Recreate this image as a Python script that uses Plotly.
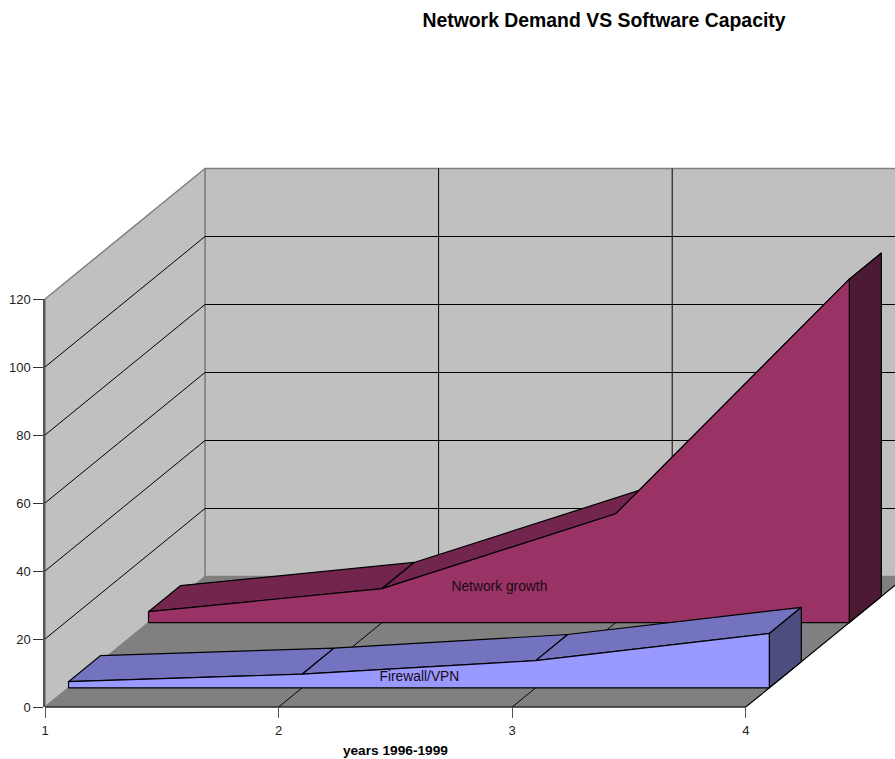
import plotly.graph_objects as go

# ---- data ----
years = [1, 2, 3, 4]
y_ticks = [0, 20, 40, 60, 80, 100, 120]
firewall_vpn = [1.8, 4, 8, 16]
network_growth = [3.2, 10, 32, 101]

W, H = 895, 759
LEFT, RIGHT, BASE, TOP = 45, 745.8, 707, 299
PX_X = (RIGHT - LEFT) / 3
PX_Y = (BASE - TOP) / 120
DEPTH_X = 160 / PX_X   # oblique offset of full depth, in category units
DEPTH_Y = 130.5 / PX_Y   # ... and in value units
x0 = 1 - LEFT / PX_X
x1 = 1 + (W - LEFT) / PX_X
y0 = -(H - BASE) / PX_Y
y1 = BASE / PX_Y


def proj(x, v, d):
    return x + d * DEPTH_X, v + d * DEPTH_Y


def poly(fig, pts, fill, line="black", width=1.2):
    xs = [p[0] for p in pts]
    ys = [p[1] for p in pts]
    fig.add_trace(go.Scatter(
        x=xs, y=ys, mode="lines", fill="toself" if fill else "none",
        fillcolor=fill, line=dict(color=line, width=width), hoverinfo="skip",
        showlegend=False, xaxis="x", yaxis="y"))


def area(fig, values, d_front, d_back, front, top, side):
    n = len(years)
    for i in range(n - 1):
        poly(fig, [proj(years[i], values[i], d_front), proj(years[i + 1], values[i + 1], d_front),
                   proj(years[i + 1], values[i + 1], d_back), proj(years[i], values[i], d_back),
                   proj(years[i], values[i], d_front)], top)
    poly(fig, [proj(years[-1], 0, d_front), proj(years[-1], values[-1], d_front),
               proj(years[-1], values[-1], d_back), proj(years[-1], 0, d_back),
               proj(years[-1], 0, d_front)], side)
    outline = [proj(years[0], 0, d_front)] + [proj(a, b, d_front) for a, b in zip(years, values)] + \
              [proj(years[-1], 0, d_front), proj(years[0], 0, d_front)]
    poly(fig, outline, front)


fig = go.Figure()
WALL = "#C0C0C0"
FLOOR = "#808080"
EDGE = "#808080"
xa, xb = years[0], years[-1]
ymax = y_ticks[-1]

# walls and floor
poly(fig, [proj(xa, 0, 1), proj(xa, ymax, 1), proj(xb, ymax, 1), proj(xb, 0, 1), proj(xa, 0, 1)], WALL, EDGE, 1.5)
poly(fig, [proj(xa, 0, 0), proj(xa, ymax, 0), proj(xa, ymax, 1), proj(xa, 0, 1), proj(xa, 0, 0)], WALL, EDGE, 1.5)
poly(fig, [proj(xa, 0, 0), proj(xb, 0, 0), proj(xb, 0, 1), proj(xa, 0, 1), proj(xa, 0, 0)], FLOOR, EDGE, 1)

# gridlines
for t in y_ticks[1:-1]:
    poly(fig, [proj(xa, t, 0), proj(xa, t, 1), proj(xb, t, 1)], None, "black", 1)
for c in years[1:-1]:
    poly(fig, [proj(c, 0, 0), proj(c, 0, 1), proj(c, ymax, 1)], None, "black", 1)
# floor front and right edges
poly(fig, [proj(xa, 0, 0), proj(xb, 0, 0), proj(xb, 0, 1)], None, "black", 1.2)

area(fig, network_growth, 0.647, 0.847, "#993366", "#73264D", "#4D1A33")
area(fig, firewall_vpn, 0.147, 0.347, "#9999FF", "#7373BF", "#4D4D80")

for name, (lx, lv), d in [("Network growth", (2.5, 10.2), 0.65), ("Firewall/VPN", (2.5, 3.0), 0.15)]:
    px, pv = proj(lx, lv, d)
    fig.add_trace(go.Scatter(x=[px], y=[pv], mode="text", text=[name], textposition="middle center",
                             textfont=dict(family="Liberation Sans", size=13.8, color="#1a0a14"),
                             hoverinfo="skip", showlegend=False, xaxis="x", yaxis="y"))

# invisible trace that carries the real tick axes
fig.add_trace(go.Scatter(x=[xa, xb], y=[0, ymax], mode="lines", line=dict(color="rgba(0,0,0,0)"),
                         hoverinfo="skip", showlegend=False, xaxis="x2", yaxis="y2"))

fig.update_layout(
    template="none",
    width=W, height=H, autosize=False,
    margin=dict(l=0, r=0, t=0, b=0, pad=0), paper_bgcolor="white", plot_bgcolor="rgba(0,0,0,0)",
    showlegend=False,
    font=dict(family="Liberation Sans", color="#222222"),
    title=dict(text="<b>Network Demand VS Software Capacity</b>", x=604 / W, xanchor="center",
               y=1 - 20 / H, yanchor="middle", automargin=False,
               font=dict(family="Liberation Sans", size=19.4, color="black")),
    xaxis=dict(domain=[0, 1], range=[x0, x1], visible=False, fixedrange=True, automargin=False),
    yaxis=dict(domain=[0, 1], range=[y0, y1], visible=False, fixedrange=True, automargin=False),
    xaxis2=dict(domain=[LEFT / W, RIGHT / W], range=[xa, xb], anchor="y2", tickmode="array",
                tickvals=years, ticktext=[str(v) for v in years], ticks="outside", ticklen=10,
                tickcolor="#555555", tickwidth=1, showgrid=False, zeroline=False, showline=False,
                automargin=False, ticklabelstandoff=1, tickfont=dict(size=13, color="#222222"),
                title=dict(text="<b>years 1996-1999</b>", font=dict(size=13.7, color="black"), standoff=8)),
    yaxis2=dict(domain=[(H - BASE) / H, (H - TOP) / H], range=[0, ymax], anchor="x2", tickmode="array",
                tickvals=y_ticks, ticks="outside", ticklen=10, tickcolor="#333333", tickwidth=1,
                showgrid=False, zeroline=False, showline=True, linecolor="#555555", linewidth=1.5,
                automargin=False, tickfont=dict(size=13, color="#222222")),
)
fig.write_html("out.html", config={"displayModeBar": False},
               post_script="document.body.style.margin='0';document.documentElement.style.overflow='hidden';")
